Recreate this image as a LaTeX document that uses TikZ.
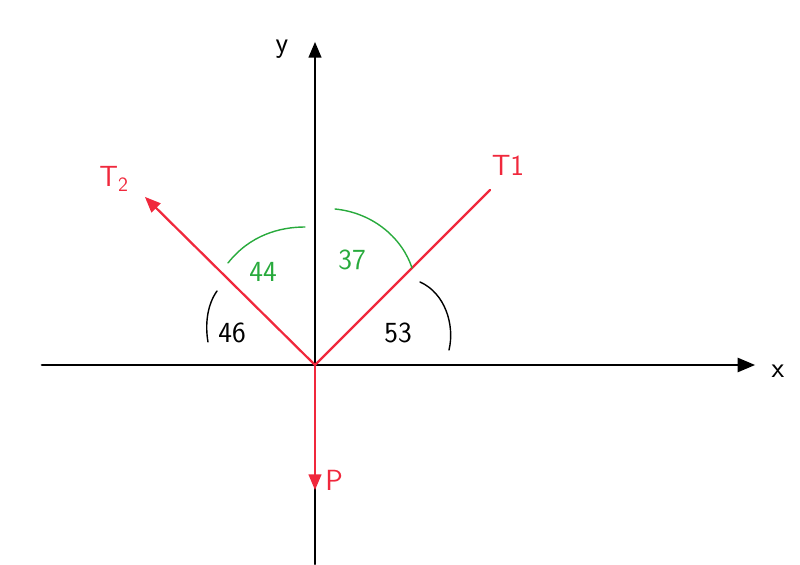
\documentclass[tikz,border=0pt]{standalone}
\usepackage{amsmath}
\usepackage{tikz}
\usetikzlibrary{arrows}
\usepackage{color}
\definecolor{tred}{RGB}{240,40,60}
\definecolor{agreen}{RGB}{40,170,60}

\begin{document}
\begin{tikzpicture}[line cap=round,line join=round,>=triangle 45,x=.025cm,y=.025cm,
	lbl/.style={font=\sffamily\huge,inner sep=1pt}]
		\useasboundingbox (-315,-199) rectangle (485,365);
		\coordinate (O) at (0,0);
		\coordinate (xe) at (440,0);
		\coordinate (xs) at (-273,0);
		\coordinate (ye) at (0,323);
		\coordinate (ys) at (0,-199);
		\coordinate (t1) at (175,175);
		\coordinate (t2) at (-170,168);
		\coordinate (pe) at (0,-125);
		% axes
		\draw[->,line width=1.9pt,color=black] (xs) -- (xe);
		\draw[->,line width=1.6pt,color=black] (ys) -- (ye);
		\node[lbl] (xl) at (463,-6) {x};
		\node[lbl] (yl) at (-33,316) {y};
		% forces
		\draw[line width=1.6pt,color=tred] (O) -- (t1);
		\draw[->,line width=1.6pt,color=tred] (O) -- (t2);
		\draw[->,line width=1.6pt,color=tred] (O) -- (pe);
		\node[lbl,color=tred] (t1l) at (193,200) {T1};
		\node[lbl,color=tred] (t2l) at (-201,186) {T\textsubscript{2}};
		\node[lbl,color=tred] (pl) at (19,-115) {P};
		% angles
		\draw[color=agreen,line width=1pt] (-87,102) .. controls (-65,130) and (-35,138) .. (-10,138);
		\draw[color=agreen,line width=1pt] (20,156) .. controls (60,152) and (88,125) .. (97,97);
		\draw[color=black,line width=1pt] (105,83) .. controls (130,72) and (140,40) .. (134,15);
		\draw[color=black,line width=1pt] (-98,74) .. controls (-108,60) and (-110,40) .. (-107,23);
		\node[lbl,color=agreen] (a44) at (-52,93) {44};
		\node[lbl,color=agreen] (a37) at (37,105) {37};
		\node[lbl] (a53) at (83,32) {53};
		\node[lbl] (a46) at (-83,32) {46};
\end{tikzpicture}
\end{document}
